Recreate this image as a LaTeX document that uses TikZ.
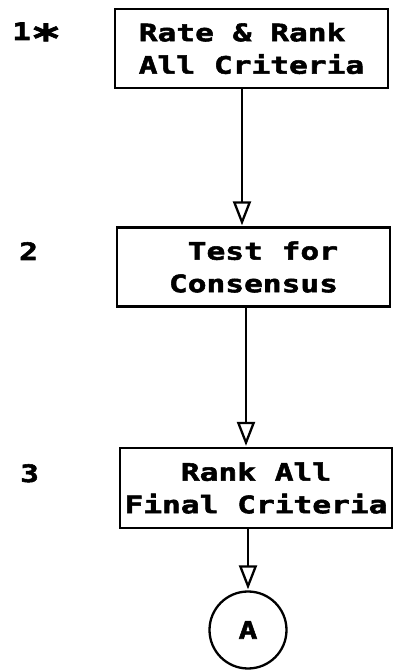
\documentclass[tikz,border=0pt]{standalone}
\usepackage{fontspec}
\usepackage{graphicx}
\newfontfamily\plotfont[FakeStretch=1.3,FakeBold=2.2]{DejaVu Sans Mono}
\usetikzlibrary{arrows.meta}
\begin{document}
\begin{tikzpicture}[x=1pt,y=1pt,
  every node/.style={font=\plotfont\bfseries\fontsize{24}{32.5}\selectfont},
  stepbox/.style={draw,line width=2.3pt,inner sep=0pt,minimum width=273pt,minimum height=79pt},
  conn/.style={line width=2.3pt,-{Triangle[open,length=24pt,width=18pt,line width=2.3pt]},shorten >=1pt},
  lbl/.style={anchor=base west,inner sep=0pt}]
\useasboundingbox (0,0) rectangle (395,670);
\fill[white] (0,0) rectangle (395,670);
\node[stepbox,align=left] (b1) at (251.5,621.5) {Rate \& Rank\\All Criteria};
\node[stepbox,align=right] (b2) at (253.5,403) {Test for\\Consensus};
\node[stepbox,align=center,minimum width=272pt,minimum height=80pt] (b3) at (256,182) {Rank All\\Final Criteria};
\node[draw,circle,line width=2.3pt,minimum size=77pt,inner sep=0pt] (A) at (248,40) {A};
\node[lbl] (l1) at (12,630) {1\lower12pt\hbox{\scalebox{1.6}{*}}};
\node[lbl] (l2) at (19,410) {2};
\node[lbl] (l3) at (20,188) {3};
\coordinate (x1) at (242,0);
\coordinate (x2) at (246,0);
\coordinate (x3) at (248,0);
\draw[conn] (b1.south -| x1) -- (b2.north -| x1);
\draw[conn] (b2.south -| x2) -- (b3.north -| x2);
\draw[conn] (b3.south -| x3) -- (A.north);
\end{tikzpicture}
\end{document}
